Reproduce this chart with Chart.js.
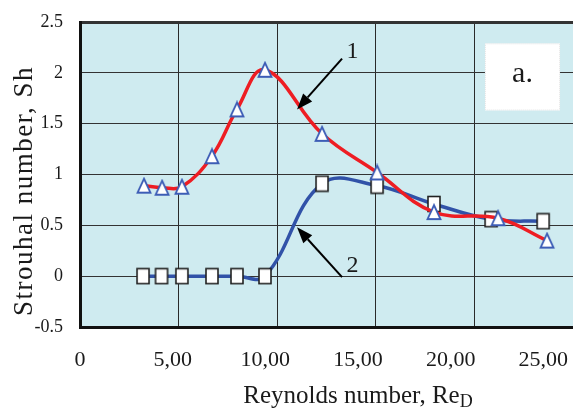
<!DOCTYPE html>
<html>
<head>
<meta charset="utf-8">
<script src="https://cdn.jsdelivr.net/npm/chart.js@4.4.1/dist/chart.umd.min.js"></script>
<style>
  html, body { margin: 0; padding: 0; background: #fff; }
</style>
</head>
<body>
<canvas id="grafico" width="573" height="410"></canvas>
<script>
// curva 1 (triangulos) y curva 2 (cuadrados)
const reynolds1 = [3.45, 4.43, 5.5, 7.12, 8.47, 9.98, 13.06, 16.03, 19.1, 22.56, 25.2];
const strouhal1 = [0.89, 0.87, 0.88, 1.18, 1.64, 2.03, 1.40, 1.02, 0.63, 0.57, 0.35];
const reynolds2 = [3.4, 4.4, 5.5, 7.12, 8.47, 9.98, 13.06, 16.03, 19.1, 22.18, 24.99];
const strouhal2 = [0, 0, 0, 0, 0, 0, 0.91, 0.89, 0.71, 0.56, 0.54];

const xTicks = [0, 5, 10, 15, 20, 25];
const xTickLabels = ['0', '5,00', '10,00', '15,00', '20,00', '25,00'];
const yTicks = [-0.5, 0, 0.5, 1, 1.5, 2, 2.5];
const yTickLabels = ['-0.5', '0', '0.5', '1', '1.5', '2', '2.5'];

const serif = 'Liberation Serif';
const tinta = '#1a1a1a';

function marcador(tipo) {
  const c = document.createElement('canvas');
  c.width = 18; c.height = 18;
  const g = c.getContext('2d');
  g.fillStyle = '#fff';
  if (tipo === 'tri') {
    g.strokeStyle = '#3d5db6';
    g.lineWidth = 1.8;
    g.beginPath();
    g.moveTo(9, 2); g.lineTo(15.5, 16); g.lineTo(2.5, 16); g.closePath();
    g.fill(); g.stroke();
  } else {
    g.strokeStyle = '#222';
    g.lineWidth = 1.6;
    g.fillRect(3, 1.5, 12, 15);
    g.strokeRect(3, 1.5, 12, 15);
  }
  return c;
}

// quita los margenes automaticos que Chart.js deja para las etiquetas
function sinMargen(s) {
  s.paddingLeft = 0; s.paddingRight = 0;
  s.paddingTop = 0; s.paddingBottom = 0;
}

const fondo = {
  id: 'fondo',
  beforeDraw(chart) {
    const a = chart.chartArea, c = chart.ctx;
    c.save();
    c.fillStyle = '#cfebf0';
    c.fillRect(a.left, a.top, a.right - a.left, a.bottom - a.top);
    c.restore();
  }
};

const flechas = [
  { texto: '1', desde: [14.14, 2.14], hasta: [11.71, 1.64], etiqueta: [14.7, 2.21] },
  { texto: '2', desde: [14.14, -0.01], hasta: [11.71, 0.48], etiqueta: [14.7, 0.10] }
];

const anotaciones = {
  id: 'anotaciones',
  afterDatasetsDraw(chart) {
    const c = chart.ctx, sx = chart.scales.x, sy = chart.scales.y;
    c.save();
    flechas.forEach(f => {
      const x0 = sx.getPixelForValue(f.desde[0]), y0 = sy.getPixelForValue(f.desde[1]);
      const x1 = sx.getPixelForValue(f.hasta[0]), y1 = sy.getPixelForValue(f.hasta[1]);
      const ang = Math.atan2(y1 - y0, x1 - x0);
      const largo = 16, ancho = 6;
      const bx = x1 - largo * Math.cos(ang), by = y1 - largo * Math.sin(ang);
      c.strokeStyle = '#000';
      c.lineWidth = 2;
      c.beginPath(); c.moveTo(x0, y0); c.lineTo(bx, by); c.stroke();
      c.fillStyle = '#000';
      c.beginPath();
      c.moveTo(x1, y1);
      c.lineTo(bx + ancho * Math.sin(ang), by - ancho * Math.cos(ang));
      c.lineTo(bx - ancho * Math.sin(ang), by + ancho * Math.cos(ang));
      c.closePath(); c.fill();
      c.font = '24px ' + serif;
      c.fillStyle = tinta;
      c.textAlign = 'center';
      c.textBaseline = 'middle';
      c.fillText(f.texto, sx.getPixelForValue(f.etiqueta[0]), sy.getPixelForValue(f.etiqueta[1]));
    });
    // recuadro "a."
    const l = sx.getPixelForValue(21.85), r = sx.getPixelForValue(25.9);
    const t = sy.getPixelForValue(2.29), b = sy.getPixelForValue(1.63);
    c.fillStyle = '#fff';
    c.fillRect(l, t, r - l, b - t);
    c.strokeStyle = '#e4e4e4';
    c.lineWidth = 1;
    c.setLineDash([1, 1]);
    c.strokeRect(l + 0.5, t + 0.5, r - l - 1, b - t - 1);
    c.setLineDash([]);
    c.fillStyle = tinta;
    c.font = '30px ' + serif;
    c.textAlign = 'center';
    c.textBaseline = 'alphabetic';
    c.fillText('a.', (l + r) / 2, t + 39);
    c.restore();
  },
  afterDraw(chart) {
    const c = chart.ctx;
    c.save();
    c.fillStyle = tinta;
    // titulo eje y
    c.translate(32, 191);
    c.rotate(-Math.PI / 2);
    c.font = '27px ' + serif;
    c.letterSpacing = '1.5px';
    c.textAlign = 'center';
    c.textBaseline = 'alphabetic';
    c.fillText('Strouhal number, Sh', 0, 0);
    c.restore();
    // titulo eje x con subindice
    c.save();
    c.fillStyle = tinta;
    c.textBaseline = 'alphabetic';
    c.textAlign = 'left';
    c.font = '25px ' + serif;
    const principal = 'Reynolds number, Re';
    const w1 = c.measureText(principal).width;
    c.font = '18px ' + serif;
    const w2 = c.measureText('D').width;
    const x0 = 358 - (w1 + w2) / 2;
    c.font = '25px ' + serif;
    c.fillText(principal, x0, 403);
    c.font = '18px ' + serif;
    c.fillText('D', x0 + w1, 407);
    c.restore();
  }
};

const ctx = document.getElementById('grafico').getContext('2d');

const miGrafico = new Chart(ctx, {
  type: 'scatter',
  data: {
    datasets: [{
      label: '1',
      data: reynolds1.map((x, i) => ({ x: x, y: strouhal1[i] })),
      showLine: true,
      borderColor: '#ee1d23',
      borderWidth: 3.5,
      tension: 0.4,
      pointStyle: marcador('tri'),
      pointRadius: 8,
      pointHoverRadius: 8
    }, {
      label: '2',
      data: reynolds2.map((x, i) => ({ x: x, y: strouhal2[i] })),
      showLine: true,
      borderColor: '#3152a8',
      borderWidth: 3.5,
      tension: 0.4,
      pointStyle: marcador('sq'),
      pointRadius: 8,
      pointHoverRadius: 8
    }]
  },
  options: {
    responsive: false,
    animation: false,
    devicePixelRatio: 1,
    layout: { autoPadding: false, padding: { top: 22, right: 0, left: 0, bottom: 0 } },
    plugins: {
      legend: { display: false },
      tooltip: { enabled: false }
    },
    scales: {
      x: {
        type: 'linear',
        min: 0,
        max: 26.6,
        afterBuildTicks: s => { s.ticks = xTicks.map(v => ({ value: v })); },
        ticks: {
          callback: (v, i) => xTickLabels[i],
          font: { family: serif, size: 22 },
          color: tinta,
          padding: 20,
          maxRotation: 0,
          autoSkip: false
        },
        grid: { display: false, drawTicks: false },
        border: { color: '#111', width: 3 },
        afterFit: s => { s.height = 83; sinMargen(s); }
      },
      xg: {
        type: 'linear',
        position: 'bottom',
        min: 0,
        max: 5,
        ticks: { display: false, stepSize: 1 },
        grid: { color: '#2a2a2a', lineWidth: 1, drawTicks: false },
        border: { display: false },
        afterFit: s => { s.height = 0; sinMargen(s); }
      },
      y: {
        min: -0.5,
        max: 2.5,
        afterBuildTicks: s => { s.ticks = yTicks.map(v => ({ value: v })); },
        ticks: {
          callback: (v, i) => yTickLabels[i],
          font: { family: serif, size: 18 },
          color: tinta,
          padding: 17
        },
        grid: {
          color: '#333',
          lineWidth: c => (c.tick && c.tick.value === 2.5) ? 3 : 1,
          drawTicks: false
        },
        border: { color: '#111', width: 3 },
        afterFit: s => { s.width = 80; sinMargen(s); }
      }
    }
  },
  plugins: [fondo, anotaciones]
});
</script>
</body>
</html>
